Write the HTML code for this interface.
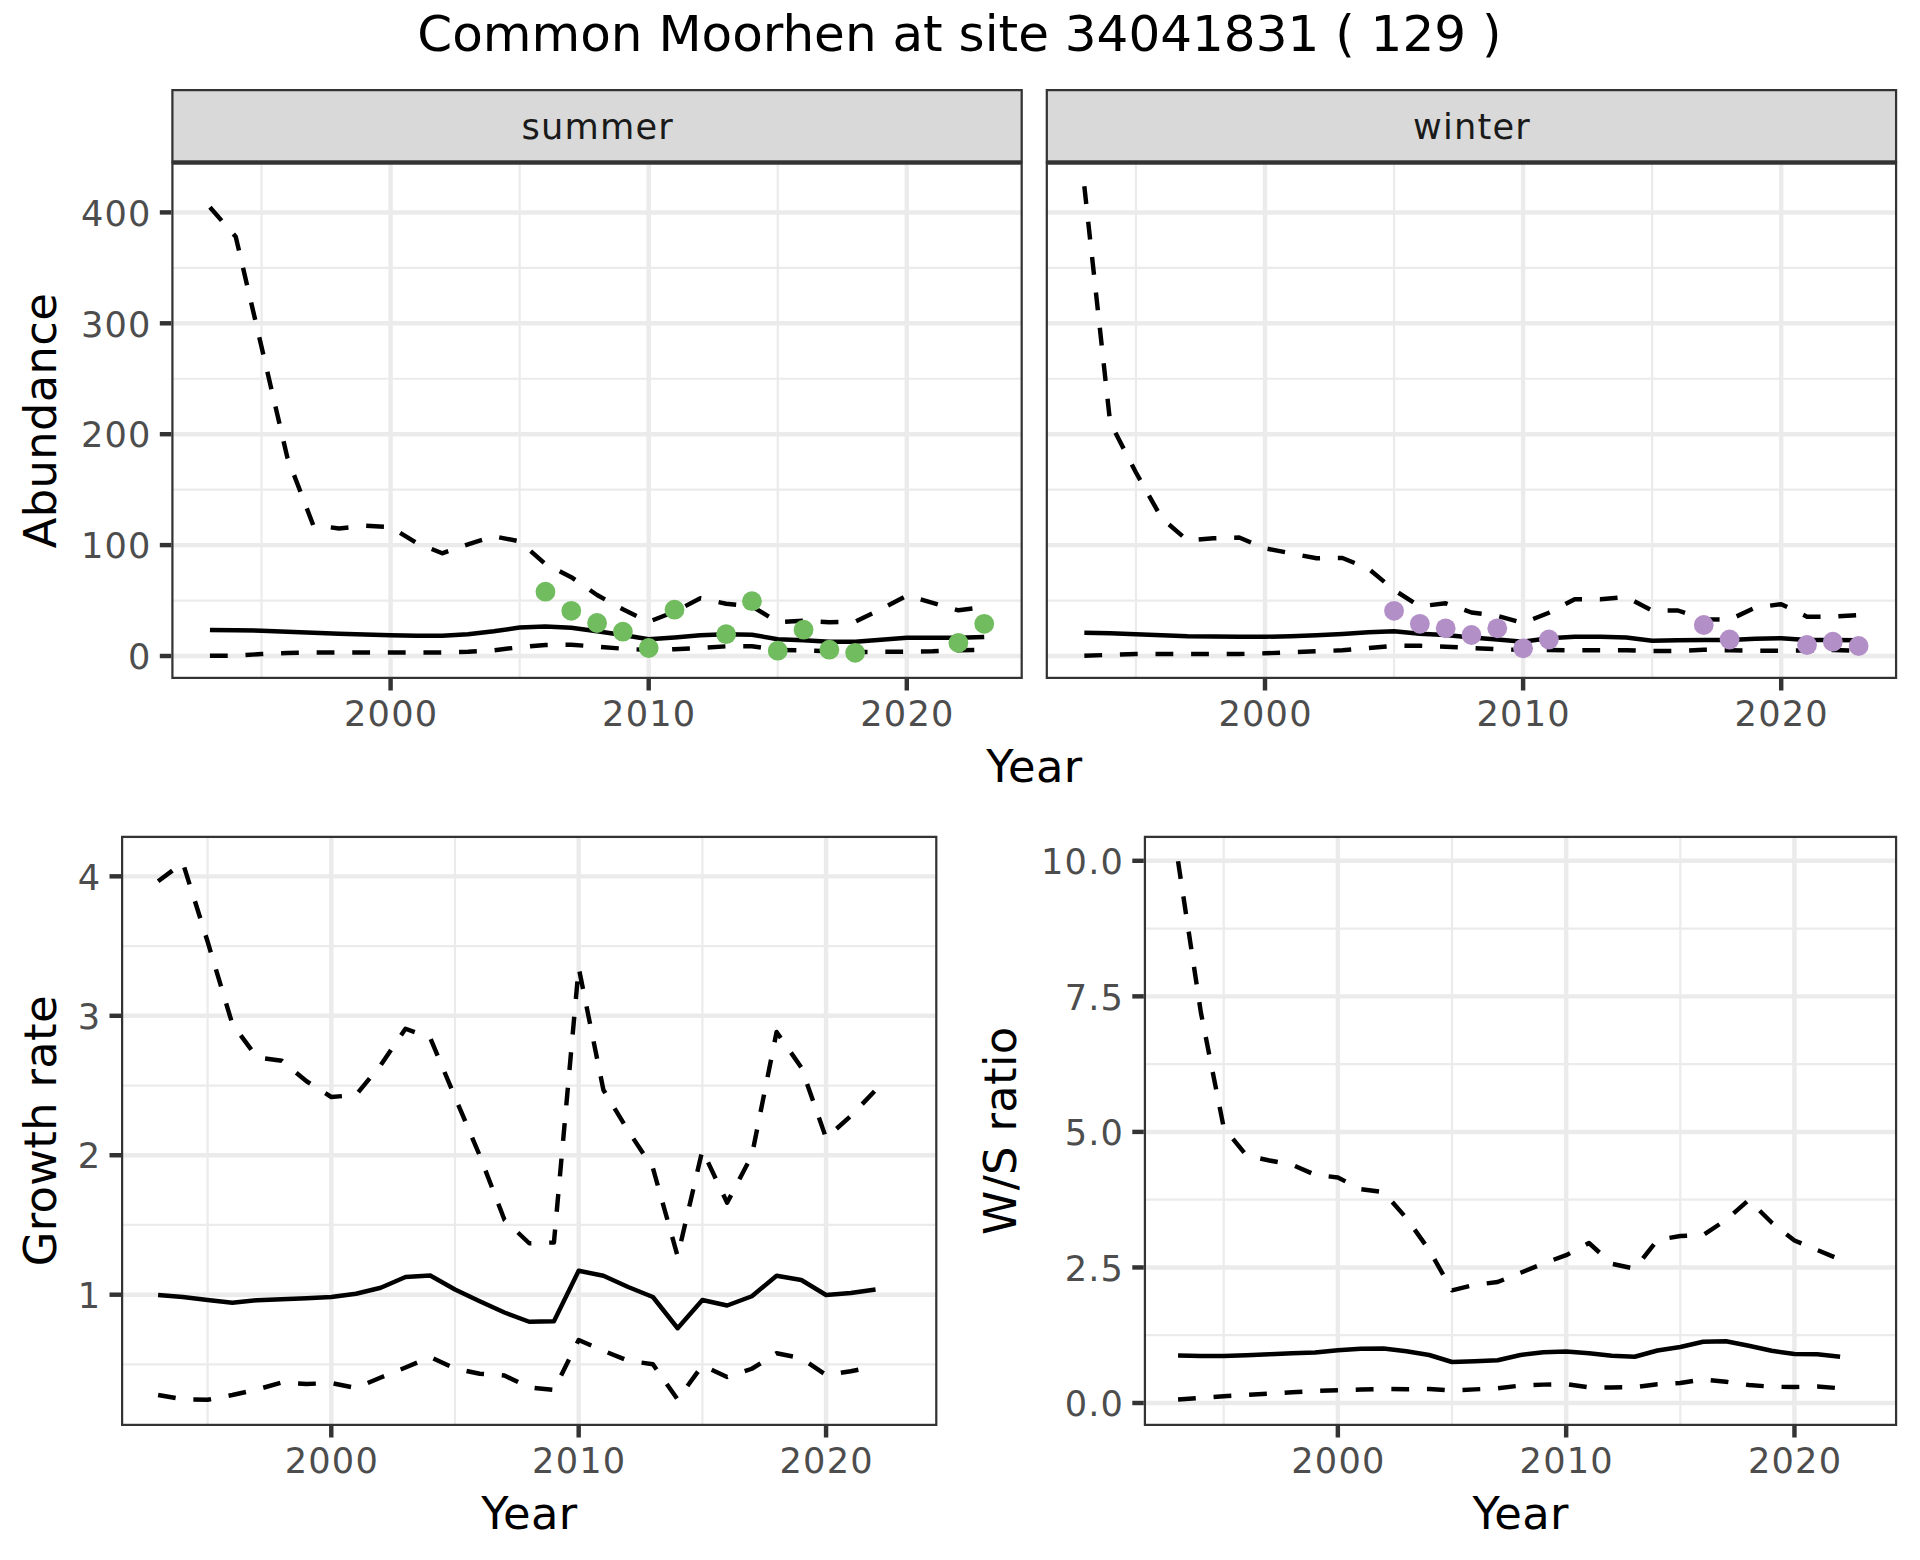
<!DOCTYPE html>
<html lang="en">
<head>
<meta charset="utf-8">
<title>Common Moorhen at site 34041831 ( 129 )</title>
<style>
html,body{margin:0;padding:0;background:#fff;}
body{width:1920px;height:1560px;overflow:hidden;}
svg{display:block;font-family:'DejaVu Sans','Liberation Sans',sans-serif;}
</style>
</head>
<body>
<svg width="1920" height="1560" viewBox="0 0 1920 1560">
<rect x="0" y="0" width="1920" height="1560" fill="#fff"/>
<clipPath id="c1"><rect x="171.3" y="89" width="851.5" height="73.5"/></clipPath>
<rect clip-path="url(#c1)" x="171.3" y="89" width="851.5" height="73.5" fill="#d9d9d9" stroke="#333333" stroke-width="4.45"/>
<text x="597.65" y="139" text-anchor="middle" font-size="35.2" letter-spacing="1.2" fill="#1a1a1a">summer</text>
<clipPath id="c2"><rect x="171.3" y="162.5" width="851.5" height="516.5"/></clipPath>
<g clip-path="url(#c2)">
<rect x="171.3" y="162.5" width="851.5" height="516.5" fill="#fff"/>
<line x1="171.3" x2="1022.8" y1="600.55" y2="600.55" stroke="#ebebeb" stroke-width="2.22"/>
<line x1="171.3" x2="1022.8" y1="489.65" y2="489.65" stroke="#ebebeb" stroke-width="2.22"/>
<line x1="171.3" x2="1022.8" y1="378.75" y2="378.75" stroke="#ebebeb" stroke-width="2.22"/>
<line x1="171.3" x2="1022.8" y1="267.85" y2="267.85" stroke="#ebebeb" stroke-width="2.22"/>
<line x1="261.55" x2="261.55" y1="162.5" y2="679" stroke="#ebebeb" stroke-width="2.22"/>
<line x1="519.65" x2="519.65" y1="162.5" y2="679" stroke="#ebebeb" stroke-width="2.22"/>
<line x1="777.75" x2="777.75" y1="162.5" y2="679" stroke="#ebebeb" stroke-width="2.22"/>
<line x1="171.3" x2="1022.8" y1="656" y2="656" stroke="#ebebeb" stroke-width="4.45"/>
<line x1="171.3" x2="1022.8" y1="545.1" y2="545.1" stroke="#ebebeb" stroke-width="4.45"/>
<line x1="171.3" x2="1022.8" y1="434.2" y2="434.2" stroke="#ebebeb" stroke-width="4.45"/>
<line x1="171.3" x2="1022.8" y1="323.3" y2="323.3" stroke="#ebebeb" stroke-width="4.45"/>
<line x1="171.3" x2="1022.8" y1="212.4" y2="212.4" stroke="#ebebeb" stroke-width="4.45"/>
<line x1="390.6" x2="390.6" y1="162.5" y2="679" stroke="#ebebeb" stroke-width="4.45"/>
<line x1="648.7" x2="648.7" y1="162.5" y2="679" stroke="#ebebeb" stroke-width="4.45"/>
<line x1="906.8" x2="906.8" y1="162.5" y2="679" stroke="#ebebeb" stroke-width="4.45"/>
<path d="M209.93 630 L235.74 630.2 L261.55 630.7 L287.36 631.7 L313.17 632.8 L338.98 633.7 L364.79 634.5 L390.6 635.2 L416.41 635.7 L442.22 635.7 L468.03 634.3 L493.84 631.3 L519.65 627.5 L545.46 626.5 L571.27 627.8 L597.08 631.3 L622.89 635 L648.7 639.2 L674.51 637.5 L700.32 635.3 L726.13 634.3 L751.94 634.7 L777.75 639.2 L803.56 640.3 L829.37 641.7 L855.18 641.7 L880.99 639.7 L906.8 637.8 L932.61 637.8 L958.42 637.8 L984.23 637" fill="none" stroke="#000" stroke-width="4.45" stroke-linejoin="round"/>
<path d="M209.93 207.2 L235.74 236.7 L261.55 347 L287.36 457.5 L313.17 525 L338.98 528.5 L364.79 525.7 L390.6 527 L416.41 542.8 L442.22 553.3 L468.03 544.3 L493.84 536.3 L519.65 541.4 L545.46 564.2 L571.27 577.2 L597.08 595 L622.89 609.3 L648.7 621.8 L674.51 611.7 L700.32 598.3 L726.13 603.7 L751.94 606.3 L777.75 622 L803.56 620.8 L829.37 622.2 L855.18 621.7 L880.99 609.2 L906.8 595.6 L932.61 602.8 L958.42 610.3 L984.23 607" fill="none" stroke="#000" stroke-width="4.45" stroke-linejoin="round" stroke-dasharray="17.8 17.8"/>
<path d="M209.93 655.8 L235.74 655.7 L261.55 654 L287.36 653 L313.17 652.5 L338.98 652.5 L364.79 652.5 L390.6 652.5 L416.41 652.5 L442.22 652.5 L468.03 651.7 L493.84 650.3 L519.65 647.2 L545.46 645 L571.27 644.7 L597.08 646.7 L622.89 648.7 L648.7 650 L674.51 649.2 L700.32 648 L726.13 646.3 L751.94 646.2 L777.75 650 L803.56 650.3 L829.37 651.3 L855.18 652 L880.99 651.8 L906.8 651.7 L932.61 651.3 L958.42 650.3 L984.23 649.7" fill="none" stroke="#000" stroke-width="4.45" stroke-linejoin="round" stroke-dasharray="17.8 17.8"/>
<circle cx="545.46" cy="591.7" r="9.9" fill="#70bc5e"/>
<circle cx="571.27" cy="610.8" r="9.9" fill="#70bc5e"/>
<circle cx="597.08" cy="623" r="9.9" fill="#70bc5e"/>
<circle cx="622.89" cy="631.7" r="9.9" fill="#70bc5e"/>
<circle cx="648.7" cy="648" r="9.9" fill="#70bc5e"/>
<circle cx="674.51" cy="609.7" r="9.9" fill="#70bc5e"/>
<circle cx="726.13" cy="634.2" r="9.9" fill="#70bc5e"/>
<circle cx="751.94" cy="601.2" r="9.9" fill="#70bc5e"/>
<circle cx="777.75" cy="650.7" r="9.9" fill="#70bc5e"/>
<circle cx="803.56" cy="629.7" r="9.9" fill="#70bc5e"/>
<circle cx="829.37" cy="649.7" r="9.9" fill="#70bc5e"/>
<circle cx="855.18" cy="652.8" r="9.9" fill="#70bc5e"/>
<circle cx="958.42" cy="642.8" r="9.9" fill="#70bc5e"/>
<circle cx="984.23" cy="623.8" r="9.9" fill="#70bc5e"/>
<rect x="171.3" y="162.5" width="851.5" height="516.5" fill="none" stroke="#333333" stroke-width="4.45"/>
</g>
<line x1="171.3" x2="1022.8" y1="162.5" y2="162.5" stroke="#333333" stroke-width="1.6"/>
<line x1="390.6" x2="390.6" y1="679" y2="690.5" stroke="#333333" stroke-width="4.45"/>
<text x="391.2" y="725.9" text-anchor="middle" font-size="35.2" letter-spacing="1.2" fill="#4d4d4d">2000</text>
<line x1="648.7" x2="648.7" y1="679" y2="690.5" stroke="#333333" stroke-width="4.45"/>
<text x="649.3" y="725.9" text-anchor="middle" font-size="35.2" letter-spacing="1.2" fill="#4d4d4d">2010</text>
<line x1="906.8" x2="906.8" y1="679" y2="690.5" stroke="#333333" stroke-width="4.45"/>
<text x="907.4" y="725.9" text-anchor="middle" font-size="35.2" letter-spacing="1.2" fill="#4d4d4d">2020</text>
<clipPath id="c3"><rect x="1045.7" y="89" width="851.5" height="73.5"/></clipPath>
<rect clip-path="url(#c3)" x="1045.7" y="89" width="851.5" height="73.5" fill="#d9d9d9" stroke="#333333" stroke-width="4.45"/>
<text x="1472.05" y="139" text-anchor="middle" font-size="35.2" letter-spacing="1.2" fill="#1a1a1a">winter</text>
<clipPath id="c4"><rect x="1045.7" y="162.5" width="851.5" height="516.5"/></clipPath>
<g clip-path="url(#c4)">
<rect x="1045.7" y="162.5" width="851.5" height="516.5" fill="#fff"/>
<line x1="1045.7" x2="1897.2" y1="600.55" y2="600.55" stroke="#ebebeb" stroke-width="2.22"/>
<line x1="1045.7" x2="1897.2" y1="489.65" y2="489.65" stroke="#ebebeb" stroke-width="2.22"/>
<line x1="1045.7" x2="1897.2" y1="378.75" y2="378.75" stroke="#ebebeb" stroke-width="2.22"/>
<line x1="1045.7" x2="1897.2" y1="267.85" y2="267.85" stroke="#ebebeb" stroke-width="2.22"/>
<line x1="1135.95" x2="1135.95" y1="162.5" y2="679" stroke="#ebebeb" stroke-width="2.22"/>
<line x1="1394.05" x2="1394.05" y1="162.5" y2="679" stroke="#ebebeb" stroke-width="2.22"/>
<line x1="1652.15" x2="1652.15" y1="162.5" y2="679" stroke="#ebebeb" stroke-width="2.22"/>
<line x1="1045.7" x2="1897.2" y1="656" y2="656" stroke="#ebebeb" stroke-width="4.45"/>
<line x1="1045.7" x2="1897.2" y1="545.1" y2="545.1" stroke="#ebebeb" stroke-width="4.45"/>
<line x1="1045.7" x2="1897.2" y1="434.2" y2="434.2" stroke="#ebebeb" stroke-width="4.45"/>
<line x1="1045.7" x2="1897.2" y1="323.3" y2="323.3" stroke="#ebebeb" stroke-width="4.45"/>
<line x1="1045.7" x2="1897.2" y1="212.4" y2="212.4" stroke="#ebebeb" stroke-width="4.45"/>
<line x1="1265" x2="1265" y1="162.5" y2="679" stroke="#ebebeb" stroke-width="4.45"/>
<line x1="1523.1" x2="1523.1" y1="162.5" y2="679" stroke="#ebebeb" stroke-width="4.45"/>
<line x1="1781.2" x2="1781.2" y1="162.5" y2="679" stroke="#ebebeb" stroke-width="4.45"/>
<path d="M1084.33 632.8 L1110.14 633.3 L1135.95 634.2 L1161.76 635.3 L1187.57 636.2 L1213.38 636.5 L1239.19 636.7 L1265 636.8 L1290.81 636.2 L1316.62 635.2 L1342.43 634 L1368.24 632.3 L1394.05 631.2 L1419.86 633.7 L1445.67 635 L1471.48 637.5 L1497.29 639.5 L1523.1 641.7 L1548.91 638.3 L1574.72 636.7 L1600.53 636.7 L1626.34 637.5 L1652.15 640.8 L1677.96 640.3 L1703.77 640 L1729.58 640 L1755.39 638.7 L1781.2 638.3 L1807.01 640 L1832.82 640 L1858.63 640.3" fill="none" stroke="#000" stroke-width="4.45" stroke-linejoin="round"/>
<path d="M1084.33 186.3 L1110.14 422.5 L1135.95 472.5 L1161.76 518.3 L1187.57 540.5 L1213.38 538.3 L1239.19 537.5 L1265 548.3 L1290.81 553.3 L1316.62 558.3 L1342.43 558 L1368.24 568.5 L1394.05 590 L1419.86 606.3 L1445.67 603.3 L1471.48 612.5 L1497.29 615.8 L1523.1 623 L1548.91 612.7 L1574.72 599.2 L1600.53 599.3 L1626.34 597 L1652.15 610.5 L1677.96 610.5 L1703.77 619.2 L1729.58 619.7 L1755.39 607.5 L1781.2 604.2 L1807.01 616.7 L1832.82 616.7 L1858.63 615" fill="none" stroke="#000" stroke-width="4.45" stroke-linejoin="round" stroke-dasharray="17.8 17.8"/>
<path d="M1084.33 655.8 L1110.14 654.8 L1135.95 654 L1161.76 654 L1187.57 654 L1213.38 654 L1239.19 654 L1265 653.3 L1290.81 652.3 L1316.62 651.2 L1342.43 650.3 L1368.24 648 L1394.05 645.8 L1419.86 645.8 L1445.67 646.7 L1471.48 648 L1497.29 649.2 L1523.1 650 L1548.91 650 L1574.72 650.3 L1600.53 650.3 L1626.34 650.3 L1652.15 651.1 L1677.96 651 L1703.77 649.7 L1729.58 650.3 L1755.39 650.7 L1781.2 650.7 L1807.01 650.5 L1832.82 650 L1858.63 650.8" fill="none" stroke="#000" stroke-width="4.45" stroke-linejoin="round" stroke-dasharray="17.8 17.8"/>
<circle cx="1394.05" cy="610.8" r="9.9" fill="#b38fc8"/>
<circle cx="1419.86" cy="623.8" r="9.9" fill="#b38fc8"/>
<circle cx="1445.67" cy="628.3" r="9.9" fill="#b38fc8"/>
<circle cx="1471.48" cy="635" r="9.9" fill="#b38fc8"/>
<circle cx="1497.29" cy="628.3" r="9.9" fill="#b38fc8"/>
<circle cx="1523.1" cy="648.3" r="9.9" fill="#b38fc8"/>
<circle cx="1548.91" cy="639.5" r="9.9" fill="#b38fc8"/>
<circle cx="1703.77" cy="625" r="9.9" fill="#b38fc8"/>
<circle cx="1729.58" cy="639.5" r="9.9" fill="#b38fc8"/>
<circle cx="1807.01" cy="645" r="9.9" fill="#b38fc8"/>
<circle cx="1832.82" cy="641.7" r="9.9" fill="#b38fc8"/>
<circle cx="1858.63" cy="646" r="9.9" fill="#b38fc8"/>
<rect x="1045.7" y="162.5" width="851.5" height="516.5" fill="none" stroke="#333333" stroke-width="4.45"/>
</g>
<line x1="1045.7" x2="1897.2" y1="162.5" y2="162.5" stroke="#333333" stroke-width="1.6"/>
<line x1="1265" x2="1265" y1="679" y2="690.5" stroke="#333333" stroke-width="4.45"/>
<text x="1265.6" y="725.9" text-anchor="middle" font-size="35.2" letter-spacing="1.2" fill="#4d4d4d">2000</text>
<line x1="1523.1" x2="1523.1" y1="679" y2="690.5" stroke="#333333" stroke-width="4.45"/>
<text x="1523.7" y="725.9" text-anchor="middle" font-size="35.2" letter-spacing="1.2" fill="#4d4d4d">2010</text>
<line x1="1781.2" x2="1781.2" y1="679" y2="690.5" stroke="#333333" stroke-width="4.45"/>
<text x="1781.8" y="725.9" text-anchor="middle" font-size="35.2" letter-spacing="1.2" fill="#4d4d4d">2020</text>
<line x1="159.8" x2="171.3" y1="656" y2="656" stroke="#333333" stroke-width="4.45"/>
<text x="151.7" y="669.2" text-anchor="end" font-size="35.2" letter-spacing="1.2" fill="#4d4d4d">0</text>
<line x1="159.8" x2="171.3" y1="545.1" y2="545.1" stroke="#333333" stroke-width="4.45"/>
<text x="151.7" y="558.3" text-anchor="end" font-size="35.2" letter-spacing="1.2" fill="#4d4d4d">100</text>
<line x1="159.8" x2="171.3" y1="434.2" y2="434.2" stroke="#333333" stroke-width="4.45"/>
<text x="151.7" y="447.4" text-anchor="end" font-size="35.2" letter-spacing="1.2" fill="#4d4d4d">200</text>
<line x1="159.8" x2="171.3" y1="323.3" y2="323.3" stroke="#333333" stroke-width="4.45"/>
<text x="151.7" y="336.5" text-anchor="end" font-size="35.2" letter-spacing="1.2" fill="#4d4d4d">300</text>
<line x1="159.8" x2="171.3" y1="212.4" y2="212.4" stroke="#333333" stroke-width="4.45"/>
<text x="151.7" y="225.6" text-anchor="end" font-size="35.2" letter-spacing="1.2" fill="#4d4d4d">400</text>
<text transform="translate(55.8 420.62) rotate(-90)" text-anchor="middle" font-size="44.8" letter-spacing="0.35" fill="#000">Abundance</text>
<text x="1034.47" y="781.8" text-anchor="middle" font-size="44.8" letter-spacing="0.35" fill="#000">Year</text>
<clipPath id="c5"><rect x="121" y="835.8" width="816.4" height="590.2"/></clipPath>
<g clip-path="url(#c5)">
<rect x="121" y="835.8" width="816.4" height="590.2" fill="#fff"/>
<line x1="121" x2="937.4" y1="1364.42" y2="1364.42" stroke="#ebebeb" stroke-width="2.22"/>
<line x1="121" x2="937.4" y1="1224.98" y2="1224.98" stroke="#ebebeb" stroke-width="2.22"/>
<line x1="121" x2="937.4" y1="1085.53" y2="1085.53" stroke="#ebebeb" stroke-width="2.22"/>
<line x1="121" x2="937.4" y1="946.08" y2="946.08" stroke="#ebebeb" stroke-width="2.22"/>
<line x1="207.59" x2="207.59" y1="835.8" y2="1426" stroke="#ebebeb" stroke-width="2.22"/>
<line x1="454.98" x2="454.98" y1="835.8" y2="1426" stroke="#ebebeb" stroke-width="2.22"/>
<line x1="702.38" x2="702.38" y1="835.8" y2="1426" stroke="#ebebeb" stroke-width="2.22"/>
<line x1="121" x2="937.4" y1="1294.7" y2="1294.7" stroke="#ebebeb" stroke-width="4.45"/>
<line x1="121" x2="937.4" y1="1155.25" y2="1155.25" stroke="#ebebeb" stroke-width="4.45"/>
<line x1="121" x2="937.4" y1="1015.8" y2="1015.8" stroke="#ebebeb" stroke-width="4.45"/>
<line x1="121" x2="937.4" y1="876.35" y2="876.35" stroke="#ebebeb" stroke-width="4.45"/>
<line x1="331.28" x2="331.28" y1="835.8" y2="1426" stroke="#ebebeb" stroke-width="4.45"/>
<line x1="578.68" x2="578.68" y1="835.8" y2="1426" stroke="#ebebeb" stroke-width="4.45"/>
<line x1="826.07" x2="826.07" y1="835.8" y2="1426" stroke="#ebebeb" stroke-width="4.45"/>
<path d="M158.11 1295 L182.85 1297 L207.59 1300 L232.33 1302.75 L257.07 1300.25 L281.81 1299.25 L306.55 1298.25 L331.28 1297 L356.02 1293.75 L380.76 1287.75 L405.5 1277 L430.24 1275.5 L454.98 1289.5 L479.72 1301.25 L504.46 1312.5 L529.2 1321.75 L553.94 1321.25 L578.68 1270.75 L603.42 1275.75 L628.16 1287 L652.9 1297 L677.64 1328.25 L702.38 1300 L727.12 1305.5 L751.85 1296.25 L776.59 1275.75 L801.33 1280 L826.07 1295 L850.81 1293 L875.55 1289.5" fill="none" stroke="#000" stroke-width="4.45" stroke-linejoin="round"/>
<path d="M158.11 881.25 L182.85 862.8 L207.59 941.5 L232.33 1024 L257.07 1057.5 L281.81 1060.75 L306.55 1081.25 L331.28 1097 L356.02 1095 L380.76 1065 L405.5 1028.75 L430.24 1038 L454.98 1097 L479.72 1155.5 L504.46 1219.8 L529.2 1243.25 L553.94 1242.5 L578.68 967.6 L603.42 1090 L628.16 1130.75 L652.9 1168 L677.64 1256.25 L702.38 1150.2 L727.12 1202.8 L751.85 1155.5 L776.59 1032 L801.33 1067.5 L826.07 1138 L850.81 1116 L875.55 1090.2" fill="none" stroke="#000" stroke-width="4.45" stroke-linejoin="round" stroke-dasharray="17.8 17.8"/>
<path d="M158.11 1395 L182.85 1399.25 L207.59 1399.75 L232.33 1395 L257.07 1389.5 L281.81 1382.5 L306.55 1384 L331.28 1383 L356.02 1388 L380.76 1377.5 L405.5 1367.5 L430.24 1357 L454.98 1368.5 L479.72 1373.75 L504.46 1375.5 L529.2 1387.5 L553.94 1390 L578.68 1340 L603.42 1350.75 L628.16 1360.75 L652.9 1364.25 L677.64 1399.5 L702.38 1365.5 L727.12 1377 L751.85 1368.75 L776.59 1353.25 L801.33 1358.25 L826.07 1375 L850.81 1371.25 L875.55 1366.25" fill="none" stroke="#000" stroke-width="4.45" stroke-linejoin="round" stroke-dasharray="17.8 17.8"/>
<rect x="121" y="835.8" width="816.4" height="590.2" fill="none" stroke="#333333" stroke-width="4.45"/>
</g>
<line x1="331.28" x2="331.28" y1="1426" y2="1437.5" stroke="#333333" stroke-width="4.45"/>
<text x="331.88" y="1472.9" text-anchor="middle" font-size="35.2" letter-spacing="1.2" fill="#4d4d4d">2000</text>
<line x1="578.68" x2="578.68" y1="1426" y2="1437.5" stroke="#333333" stroke-width="4.45"/>
<text x="579.28" y="1472.9" text-anchor="middle" font-size="35.2" letter-spacing="1.2" fill="#4d4d4d">2010</text>
<line x1="826.07" x2="826.07" y1="1426" y2="1437.5" stroke="#333333" stroke-width="4.45"/>
<text x="826.67" y="1472.9" text-anchor="middle" font-size="35.2" letter-spacing="1.2" fill="#4d4d4d">2020</text>
<line x1="109.5" x2="121" y1="1294.7" y2="1294.7" stroke="#333333" stroke-width="4.45"/>
<text x="101.4" y="1307.9" text-anchor="end" font-size="35.2" letter-spacing="1.2" fill="#4d4d4d">1</text>
<line x1="109.5" x2="121" y1="1155.25" y2="1155.25" stroke="#333333" stroke-width="4.45"/>
<text x="101.4" y="1168.45" text-anchor="end" font-size="35.2" letter-spacing="1.2" fill="#4d4d4d">2</text>
<line x1="109.5" x2="121" y1="1015.8" y2="1015.8" stroke="#333333" stroke-width="4.45"/>
<text x="101.4" y="1029" text-anchor="end" font-size="35.2" letter-spacing="1.2" fill="#4d4d4d">3</text>
<line x1="109.5" x2="121" y1="876.35" y2="876.35" stroke="#333333" stroke-width="4.45"/>
<text x="101.4" y="889.55" text-anchor="end" font-size="35.2" letter-spacing="1.2" fill="#4d4d4d">4</text>
<text transform="translate(55.8 1130.73) rotate(-90)" text-anchor="middle" font-size="44.8" letter-spacing="0.35" fill="#000">Growth rate</text>
<text x="529.38" y="1528.8" text-anchor="middle" font-size="44.8" letter-spacing="0.35" fill="#000">Year</text>
<clipPath id="c6"><rect x="1143.8" y="835.8" width="753.4" height="590.2"/></clipPath>
<g clip-path="url(#c6)">
<rect x="1143.8" y="835.8" width="753.4" height="590.2" fill="#fff"/>
<line x1="1143.8" x2="1897.2" y1="1335.22" y2="1335.22" stroke="#ebebeb" stroke-width="2.22"/>
<line x1="1143.8" x2="1897.2" y1="1199.67" y2="1199.67" stroke="#ebebeb" stroke-width="2.22"/>
<line x1="1143.8" x2="1897.2" y1="1064.12" y2="1064.12" stroke="#ebebeb" stroke-width="2.22"/>
<line x1="1143.8" x2="1897.2" y1="928.58" y2="928.58" stroke="#ebebeb" stroke-width="2.22"/>
<line x1="1223.71" x2="1223.71" y1="835.8" y2="1426" stroke="#ebebeb" stroke-width="2.22"/>
<line x1="1452.01" x2="1452.01" y1="835.8" y2="1426" stroke="#ebebeb" stroke-width="2.22"/>
<line x1="1680.31" x2="1680.31" y1="835.8" y2="1426" stroke="#ebebeb" stroke-width="2.22"/>
<line x1="1143.8" x2="1897.2" y1="1403" y2="1403" stroke="#ebebeb" stroke-width="4.45"/>
<line x1="1143.8" x2="1897.2" y1="1267.45" y2="1267.45" stroke="#ebebeb" stroke-width="4.45"/>
<line x1="1143.8" x2="1897.2" y1="1131.9" y2="1131.9" stroke="#ebebeb" stroke-width="4.45"/>
<line x1="1143.8" x2="1897.2" y1="996.35" y2="996.35" stroke="#ebebeb" stroke-width="4.45"/>
<line x1="1143.8" x2="1897.2" y1="860.8" y2="860.8" stroke="#ebebeb" stroke-width="4.45"/>
<line x1="1337.86" x2="1337.86" y1="835.8" y2="1426" stroke="#ebebeb" stroke-width="4.45"/>
<line x1="1566.16" x2="1566.16" y1="835.8" y2="1426" stroke="#ebebeb" stroke-width="4.45"/>
<line x1="1794.46" x2="1794.46" y1="835.8" y2="1426" stroke="#ebebeb" stroke-width="4.45"/>
<path d="M1178.05 1355.5 L1200.88 1356 L1223.71 1356 L1246.54 1355.25 L1269.37 1354.25 L1292.2 1353.25 L1315.03 1352.5 L1337.86 1350.25 L1360.69 1348.75 L1383.52 1348.5 L1406.35 1351.25 L1429.18 1355 L1452.01 1362 L1474.84 1361.25 L1497.67 1360.25 L1520.5 1355 L1543.33 1352.25 L1566.16 1351.5 L1588.99 1353.25 L1611.82 1355.75 L1634.65 1356.75 L1657.48 1350.5 L1680.31 1347 L1703.14 1341.75 L1725.97 1341.25 L1748.8 1345.75 L1771.63 1350.75 L1794.46 1354 L1817.29 1354.25 L1840.12 1356.75" fill="none" stroke="#000" stroke-width="4.45" stroke-linejoin="round"/>
<path d="M1178.05 861.25 L1200.88 1012.5 L1223.71 1127.5 L1246.54 1155.5 L1269.37 1160.5 L1292.2 1164.7 L1315.03 1174.8 L1337.86 1177.5 L1360.69 1189.2 L1383.52 1192 L1406.35 1218 L1429.18 1250 L1452.01 1290.3 L1474.84 1284.8 L1497.67 1282 L1520.5 1272.8 L1543.33 1263.5 L1566.16 1255.2 L1588.99 1243 L1611.82 1263.75 L1634.65 1268.75 L1657.48 1240 L1680.31 1236 L1703.14 1235 L1725.97 1220 L1748.8 1200 L1771.63 1222.5 L1794.46 1240.5 L1817.29 1250 L1840.12 1259.5" fill="none" stroke="#000" stroke-width="4.45" stroke-linejoin="round" stroke-dasharray="17.8 17.8"/>
<path d="M1178.05 1399.5 L1200.88 1398 L1223.71 1396.25 L1246.54 1395 L1269.37 1393.5 L1292.2 1392.25 L1315.03 1391 L1337.86 1390.25 L1360.69 1389.5 L1383.52 1389 L1406.35 1389.25 L1429.18 1389 L1452.01 1390.5 L1474.84 1389.4 L1497.67 1388.25 L1520.5 1385.6 L1543.33 1384.6 L1566.16 1384.1 L1588.99 1387.4 L1611.82 1387.4 L1634.65 1387.25 L1657.48 1384.25 L1680.31 1383 L1703.14 1379.5 L1725.97 1381.75 L1748.8 1385 L1771.63 1386.75 L1794.46 1387 L1817.29 1386.5 L1840.12 1388.25" fill="none" stroke="#000" stroke-width="4.45" stroke-linejoin="round" stroke-dasharray="17.8 17.8"/>
<rect x="1143.8" y="835.8" width="753.4" height="590.2" fill="none" stroke="#333333" stroke-width="4.45"/>
</g>
<line x1="1337.86" x2="1337.86" y1="1426" y2="1437.5" stroke="#333333" stroke-width="4.45"/>
<text x="1338.46" y="1472.9" text-anchor="middle" font-size="35.2" letter-spacing="1.2" fill="#4d4d4d">2000</text>
<line x1="1566.16" x2="1566.16" y1="1426" y2="1437.5" stroke="#333333" stroke-width="4.45"/>
<text x="1566.76" y="1472.9" text-anchor="middle" font-size="35.2" letter-spacing="1.2" fill="#4d4d4d">2010</text>
<line x1="1794.46" x2="1794.46" y1="1426" y2="1437.5" stroke="#333333" stroke-width="4.45"/>
<text x="1795.06" y="1472.9" text-anchor="middle" font-size="35.2" letter-spacing="1.2" fill="#4d4d4d">2020</text>
<line x1="1132.3" x2="1143.8" y1="1403" y2="1403" stroke="#333333" stroke-width="4.45"/>
<text x="1124.2" y="1416.2" text-anchor="end" font-size="35.2" letter-spacing="1.2" fill="#4d4d4d">0.0</text>
<line x1="1132.3" x2="1143.8" y1="1267.45" y2="1267.45" stroke="#333333" stroke-width="4.45"/>
<text x="1124.2" y="1280.65" text-anchor="end" font-size="35.2" letter-spacing="1.2" fill="#4d4d4d">2.5</text>
<line x1="1132.3" x2="1143.8" y1="1131.9" y2="1131.9" stroke="#333333" stroke-width="4.45"/>
<text x="1124.2" y="1145.1" text-anchor="end" font-size="35.2" letter-spacing="1.2" fill="#4d4d4d">5.0</text>
<line x1="1132.3" x2="1143.8" y1="996.35" y2="996.35" stroke="#333333" stroke-width="4.45"/>
<text x="1124.2" y="1009.55" text-anchor="end" font-size="35.2" letter-spacing="1.2" fill="#4d4d4d">7.5</text>
<line x1="1132.3" x2="1143.8" y1="860.8" y2="860.8" stroke="#333333" stroke-width="4.45"/>
<text x="1124.2" y="874" text-anchor="end" font-size="35.2" letter-spacing="1.2" fill="#4d4d4d">10.0</text>
<text transform="translate(1015.5 1130.73) rotate(-90)" text-anchor="middle" font-size="44.8" letter-spacing="0.35" fill="#000">W/S ratio</text>
<text x="1520.67" y="1528.8" text-anchor="middle" font-size="44.8" letter-spacing="0.35" fill="#000">Year</text>
<text x="959.4" y="51.2" text-anchor="middle" font-size="50.0" fill="#000">Common Moorhen at site 34041831 ( 129 )</text>
</svg>
</body>
</html>
